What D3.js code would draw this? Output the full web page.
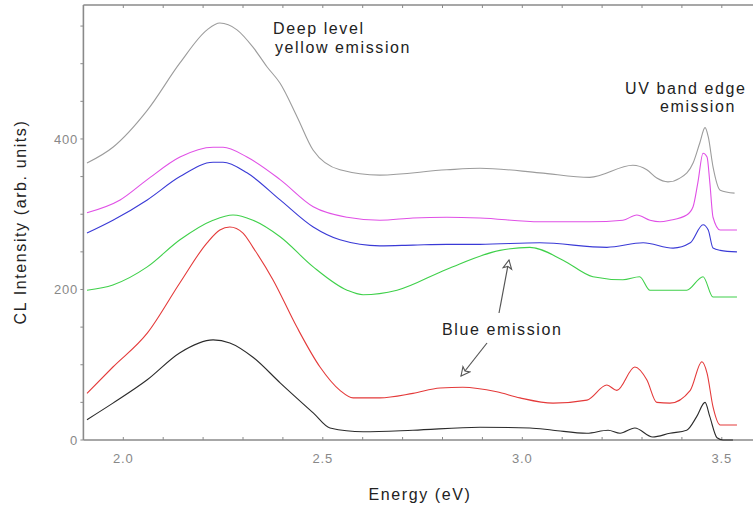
<!DOCTYPE html>
<html>
<head>
<meta charset="utf-8">
<script src="https://cdn.jsdelivr.net/npm/d3@7"></script>
<style>
  body { margin: 0; background: #fff; }
  svg { display: block; font-family: "Liberation Sans", Arial, sans-serif; }
  .lbl { font-size: 16px; fill: #222; letter-spacing: 1.6px; }
  .tick-lbl { font-size: 13px; fill: #888; letter-spacing: 0.8px; }
</style>
</head>
<body>
<svg id="vis" width="753" height="519"></svg>
<script>
// spectra (energy in eV, CL intensity arb. units)
const grayEnergy = [1.909, 1.974, 2.06, 2.142, 2.21, 2.242, 2.285, 2.325, 2.36, 2.393, 2.436, 2.476, 2.543, 2.643, 2.811, 2.894, 3.044, 3.169, 3.277, 3.312, 3.337, 3.365, 3.395, 3.428, 3.445, 3.458, 3.466, 3.478, 3.496, 3.532];
const grayIntensity = [368, 389, 438, 501, 545, 554, 545, 522, 496, 474, 429, 385, 359, 352, 359, 361, 355, 349, 365, 359, 348, 343, 348, 368, 395, 415, 403, 363, 332, 328];

const magentaEnergy = [1.909, 1.992, 2.06, 2.142, 2.225, 2.25, 2.31, 2.393, 2.476, 2.561, 2.643, 2.726, 2.811, 2.894, 3.044, 3.169, 3.252, 3.287, 3.32, 3.345, 3.37, 3.412, 3.428, 3.44, 3.453, 3.463, 3.47, 3.478, 3.496, 3.538];
const magentaIntensity = [302, 319, 346, 376, 389, 389, 376, 346, 310, 296, 292, 295, 296, 295, 290, 290, 292, 299, 292, 290, 292, 299, 310, 342, 381, 376, 342, 296, 279, 279];

const blueEnergy = [1.909, 1.974, 2.06, 2.142, 2.225, 2.25, 2.31, 2.393, 2.476, 2.543, 2.643, 2.726, 2.811, 2.894, 3.044, 3.212, 3.303, 3.378, 3.421, 3.453, 3.466, 3.478, 3.496, 3.538];
const blueIntensity = [275, 292, 319, 350, 369, 369, 355, 319, 283, 266, 258, 259, 260, 260, 262, 256, 262, 255, 262, 286, 279, 255, 252, 250];

const greenEnergy = [1.909, 1.974, 2.06, 2.142, 2.225, 2.275, 2.325, 2.393, 2.476, 2.561, 2.601, 2.686, 2.811, 2.944, 3.019, 3.102, 3.177, 3.252, 3.294, 3.32, 3.412, 3.453, 3.478, 3.538];
const greenIntensity = [199, 206, 230, 266, 292, 299, 292, 270, 230, 199, 193, 199, 227, 252, 256, 239, 217, 213, 217, 199, 199, 217, 190, 190];

const redEnergy = [1.909, 1.974, 2.06, 2.142, 2.21, 2.242, 2.267, 2.3, 2.325, 2.375, 2.435, 2.493, 2.543, 2.576, 2.643, 2.726, 2.794, 2.851, 2.936, 2.994, 3.077, 3.162, 3.212, 3.237, 3.282, 3.312, 3.337, 3.37, 3.421, 3.45, 3.463, 3.478, 3.496, 3.538];
const redIntensity = [62, 97, 142, 209, 262, 279, 283, 275, 256, 213, 150, 97, 66, 56, 56, 62, 69, 70, 64, 56, 49, 53, 73, 66, 97, 80, 50, 49, 66, 104, 89, 44, 20, 20];

const blackEnergy = [1.909, 1.974, 2.06, 2.142, 2.225, 2.267, 2.325, 2.393, 2.476, 2.518, 2.601, 2.726, 2.894, 3.019, 3.077, 3.162, 3.215, 3.245, 3.282, 3.327, 3.37, 3.412, 3.437, 3.458, 3.47, 3.488, 3.503, 3.528];
const blackIntensity = [27, 49, 80, 116, 133, 129, 110, 76, 36, 16, 11, 13, 17, 16, 13, 9, 13, 9, 16, 4, 9, 13, 31, 50, 31, 3, 0, 0];

const xTicks = [2.0, 2.5, 3.0, 3.5];
const yTicks = [0, 200, 400];

const series = [
  {name: "gray", color: "#9c9c9c", e: grayEnergy, v: grayIntensity},
  {name: "magenta", color: "#e050e6", e: magentaEnergy, v: magentaIntensity},
  {name: "blue", color: "#3a3ad6", e: blueEnergy, v: blueIntensity},
  {name: "green", color: "#3fd04a", e: greenEnergy, v: greenIntensity},
  {name: "red", color: "#e43a3a", e: redEnergy, v: redIntensity},
  {name: "black", color: "#2b2b2b", e: blackEnergy, v: blackIntensity},
];

const svg = d3.select("#vis");
const plotLeft = 83.4, plotTop = 5, plotBottom = 440;

const x = d3.scaleLinear().domain([1.9, 3.6]).range([plotLeft, 761.7]);
const y = d3.scaleLinear().domain([0, 578]).range([plotBottom, plotTop]);

// frame: left, top, bottom (right edge runs off the page)
svg.append("g").attr("stroke", "#8a8a8a").attr("stroke-width", 1.6)
  .call(g => g.append("line").attr("x1", plotLeft).attr("x2", plotLeft).attr("y1", plotTop).attr("y2", plotBottom))
  .call(g => g.append("line").attr("x1", plotLeft).attr("x2", 753).attr("y1", plotTop).attr("y2", plotTop))
  .call(g => g.append("line").attr("x1", plotLeft).attr("x2", 753).attr("y1", plotBottom).attr("y2", plotBottom));

// minor/major ticks
const minorX = d3.range(20, 36).map(d => d / 10);
svg.append("g").attr("stroke", "#8a8a8a").attr("stroke-width", 1)
  .selectAll("line").data(minorX).join("line")
  .attr("x1", d => x(d)).attr("x2", d => x(d)).attr("y1", plotBottom).attr("y2", plotBottom - 3);
svg.append("g").attr("stroke", "#8a8a8a").attr("stroke-width", 1)
  .selectAll("line").data(minorX).join("line")
  .attr("x1", d => x(d)).attr("x2", d => x(d)).attr("y1", plotTop).attr("y2", plotTop + 3);
svg.append("g").attr("stroke", "#8a8a8a").attr("stroke-width", 1)
  .selectAll("line").data(d3.range(0, 578, 50)).join("line")
  .attr("x1", plotLeft - 3).attr("x2", plotLeft).attr("y1", d => y(d)).attr("y2", d => y(d));

svg.append("g").selectAll("text").data(xTicks).join("text")
  .attr("class", "tick-lbl").attr("x", d => x(d)).attr("y", 463)
  .attr("text-anchor", "middle").text(d3.format(".1f"));
svg.append("g").selectAll("text").data(yTicks).join("text")
  .attr("class", "tick-lbl").attr("x", 78).attr("y", d => y(d)).attr("dy", "0.36em")
  .attr("text-anchor", "end").text(d => d);

// spectra
const line = d3.line().x(d => x(d[0])).y(d => y(d[1])).curve(d3.curveMonotoneX);
svg.append("g").attr("fill", "none").attr("stroke-width", 1.1)
  .selectAll("path").data(series).join("path")
  .attr("stroke", d => d.color)
  .attr("d", d => line(d.e.map((e, i) => [e, d.v[i]])));

// axis titles
svg.append("text").attr("class", "lbl").attr("x", 420).attr("y", 500)
  .attr("text-anchor", "middle").text("Energy (eV)");
svg.append("text").attr("class", "lbl").attr("transform", "translate(26,222) rotate(-90)")
  .attr("text-anchor", "middle").text("CL Intensity (arb. units)");

// annotations
svg.append("text").attr("class", "lbl").attr("x", 273).attr("y", 34).text("Deep level");
svg.append("text").attr("class", "lbl").attr("x", 275).attr("y", 53).text("yellow emission");
svg.append("text").attr("class", "lbl").attr("x", 625).attr("y", 94).text("UV band edge");
svg.append("text").attr("class", "lbl").attr("x", 660).attr("y", 112).text("emission");
svg.append("text").attr("class", "lbl").attr("x", 442).attr("y", 335).text("Blue emission");

svg.append("defs").append("marker")
  .attr("id", "head").attr("viewBox", "0 0 10 10").attr("refX", 9).attr("refY", 5)
  .attr("markerWidth", 9).attr("markerHeight", 9).attr("orient", "auto")
  .append("path").attr("d", "M1,1 L9,5 L1,9 L3,5 Z")
  .attr("fill", "#fff").attr("stroke", "#555").attr("stroke-width", 1);

const arrows = [[499, 313, 509, 260], [487, 343, 461, 376]];
svg.append("g").attr("stroke", "#555").attr("stroke-width", 1.2)
  .selectAll("line").data(arrows).join("line")
  .attr("x1", d => d[0]).attr("y1", d => d[1]).attr("x2", d => d[2]).attr("y2", d => d[3])
  .attr("marker-end", "url(#head)");
</script>
</body>
</html>
